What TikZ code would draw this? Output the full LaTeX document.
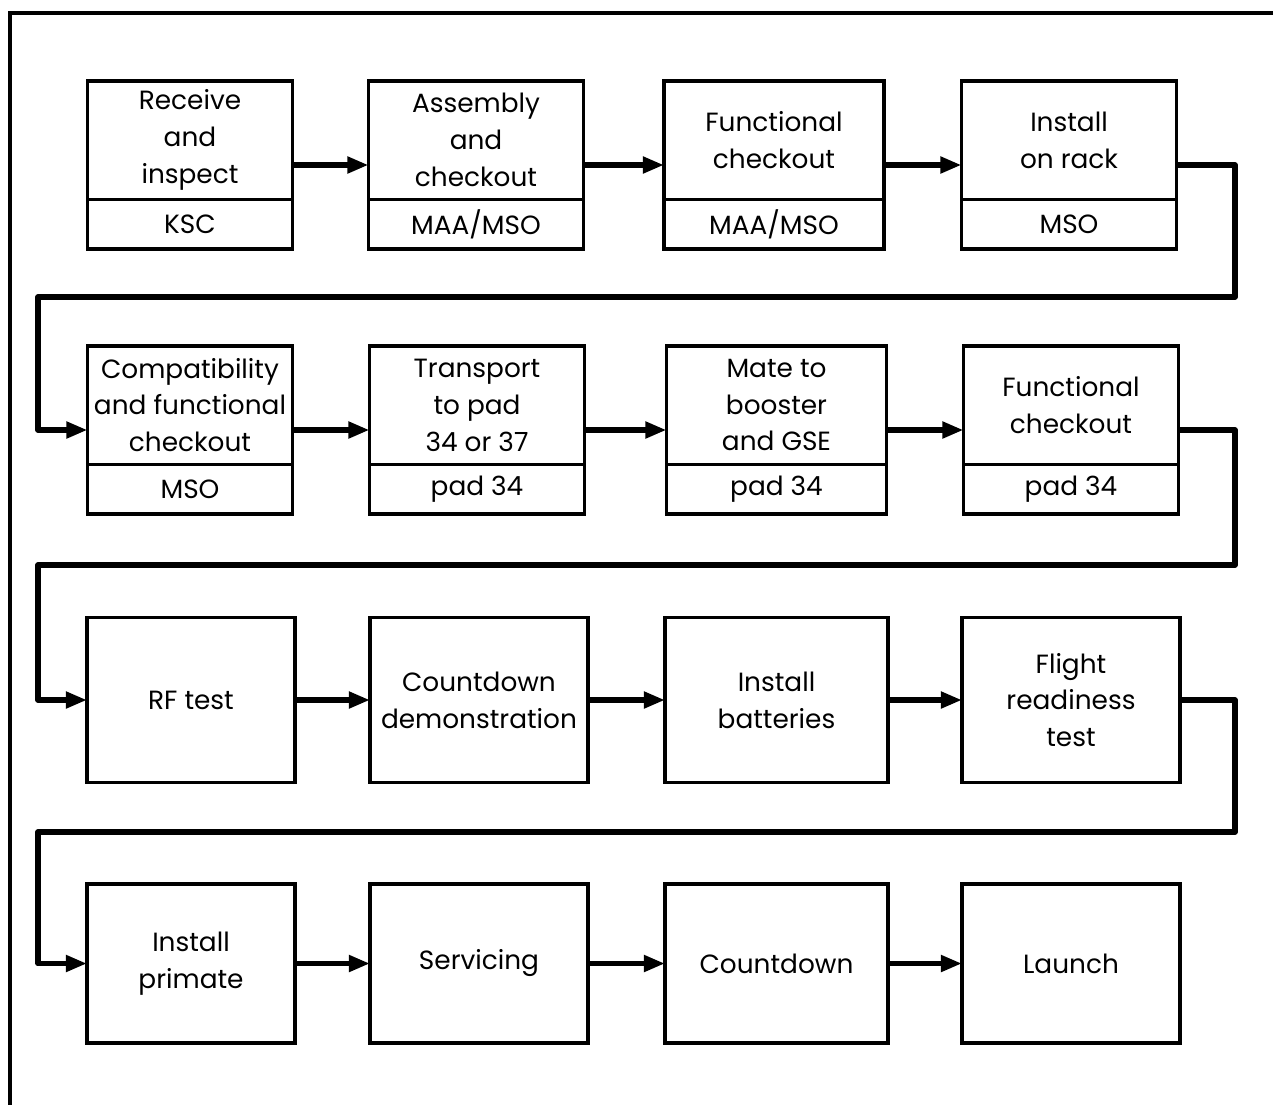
\documentclass[tikz,border=0pt]{standalone}
\usepackage{fontspec}
\setmainfont{Poppins}
\usetikzlibrary{arrows.meta,shapes.multipart}

\tikzset{
  stage/.style={draw, line width=2.2pt, rectangle split, rectangle split parts=2,
                inner sep=0pt, outer sep=0pt},
  stagebig/.style={draw, line width=2.2pt, inner sep=0pt, outer sep=0pt, align=center,
                   minimum width=#1, minimum height=3.3cm},
  flow/.style={line width=3.2pt, line join=round, -{Triangle[length=12pt,width=9pt]}}
}
% upper part with the task, lower part with the site
\newcommand{\twopart}[3]{\parbox[c][2.3cm]{#1}{\centering #2}\nodepart{two}\parbox[c][0.92cm]{#1}{\centering #3}}

\begin{document}
\begin{tikzpicture}
\fontsize{15}{21}\selectfont
\useasboundingbox (0,0) rectangle (25.46,-22.1);

% frame
\draw[line width=2pt] (25.46,-0.26) -- (0.2,-0.26) -- (0.2,-22.1);

% first row
\node[stage] (recv)   at (3.8,-3.3)   {\twopart{4.1cm}{Receive\\and\\inspect}{KSC}};
\node[stage] (assy)   at (9.52,-3.3)  {\twopart{4.3cm}{Assembly\\and\\checkout}{MAA/MSO}};
\node[stage] (func)   at (15.48,-3.3) {\twopart{4.4cm}{Functional\\checkout}{MAA/MSO}};
\node[stage] (rack)   at (21.38,-3.3) {\twopart{4.3cm}{Install\\on rack}{MSO}};

% second row
\node[stage] (compat) at (3.8,-8.6)   {\twopart{4.1cm}{Compatibility\\and functional\\checkout}{MSO}};
\node[stage] (trans)  at (9.54,-8.6)  {\twopart{4.3cm}{Transport\\to pad\\34 or 37}{pad 34}};
\node[stage] (mate)   at (15.53,-8.6) {\twopart{4.4cm}{Mate to\\booster\\and GSE}{pad 34}};
\node[stage] (padchk) at (21.42,-8.6)  {\twopart{4.3cm}{Functional\\checkout}{pad 34}};

% third row
\node[stagebig=4.16cm] (rf)      at (3.82,-14)  {RF test};
\node[stagebig=4.36cm] (demo)    at (9.58,-14)  {Countdown\\demonstration};
\node[stagebig=4.46cm] (batt)    at (15.53,-14) {Install\\batteries};
\node[stagebig=4.36cm] (ready)   at (21.42,-14) {Flight\\readiness\\test};

% fourth row
\node[stagebig=4.16cm, minimum height=3.18cm] (primate) at (3.82,-19.27)  {Install\\primate};
\node[stagebig=4.36cm, minimum height=3.18cm] (serv)    at (9.58,-19.27)  {Servicing};
\node[stagebig=4.46cm, minimum height=3.18cm] (count)   at (15.53,-19.27) {Countdown};
\node[stagebig=4.36cm, minimum height=3.18cm] (launch)  at (21.42,-19.27) {Launch};

% turning points between rows
\coordinate (back1) at (24.7,-5.94);  \coordinate (left1) at (0.76,-5.94);
\coordinate (back2) at (24.7,-11.3);  \coordinate (left2) at (0.76,-11.3);
\coordinate (back3) at (24.7,-16.64); \coordinate (left3) at (0.76,-16.64);

% flow along the rows
\draw[flow] (recv) -- (assy);
\draw[flow] (assy) -- (func);
\draw[flow] (func) -- (rack);
\draw[flow] (compat) -- (trans);
\draw[flow] (trans) -- (mate);
\draw[flow] (mate) -- (padchk);
\draw[flow] (rf) -- (demo);
\draw[flow] (demo) -- (batt);
\draw[flow] (batt) -- (ready);
\draw[flow] (primate) -- (serv);
\draw[flow] (serv) -- (count);
\draw[flow] (count) -- (launch);

% flow from one row to the next
\draw[flow] (rack.east) -| (back1) -- (left1) |- (compat.west);
\draw[flow] (padchk.east) -| (back2) -- (left2) |- (rf.west);
\draw[flow] (ready.east) -| (back3) -- (left3) |- (primate.west);
\end{tikzpicture}
\end{document}
